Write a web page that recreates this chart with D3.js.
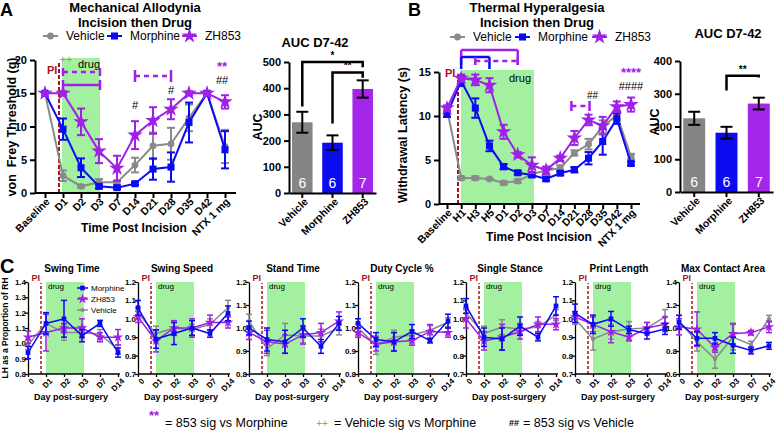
<!DOCTYPE html>
<html>
<head>
<meta charset="utf-8">
<script src="https://cdn.jsdelivr.net/npm/d3@7"></script>
<style>
  body { margin: 0; background: #fff; }
  svg { font-family: "Liberation Sans", Arial, Helvetica, sans-serif; }
</style>
</head>
<body>
<script>
// ---------- data ----------
const groups = ["Vehicle", "Morphine", "ZH853"];

const aTimes = ["Baseline", "D1", "D2", "D3", "D7", "D14", "D21", "D28", "D35", "D42", "NTX 1 mg"];
const aVehicle = [15, 2.6, 1.0, 1.6, 1.6, 4.2, 7.1, 7.4, 11.3, 15, 7.0];
const aVehicleErr = [0, 0.8, 0.2, 0.5, 0.3, 1.1, 2.0, 2.4, 2.0, 0.3, 2.5];
const aMorphine = [15, 9.6, 3.8, 1.0, 0.8, 1.4, 3.6, 3.9, 10.6, 15, 6.5];
const aMorphineErr = [0, 1.6, 1.4, 0.3, 0.2, 0.2, 1.6, 2.2, 3.0, 0.3, 2.8];
const aZH853 = [15, 15, 10.7, 6.3, 3.7, 8.7, 10.9, 12.6, 15, 15, 13.7];
const aZH853Err = [0, 0.3, 2.0, 1.8, 1.9, 2.1, 2.0, 1.5, 0.3, 0.3, 1.0];
const aAuc = [270, 192, 397];
const aAucErr = [40, 28, 33];
const aN = [6, 6, 7];

const bTimes = ["Baseline", "H1", "H3", "H5", "D1", "D2", "D3", "D7", "D14", "D21", "D28", "D35", "D42", "NTX 1 mg"];
const bVehicle = [10.8, 2.95, 2.95, 2.85, 2.4, 2.6, 3.4, 3.8, 4.1, 5.8, 6.8, 8.8, 10.1, 5.4];
const bVehicleErr = [0.3, 0.2, 0.2, 0.1, 0.2, 0.2, 0.2, 0.4, 0.3, 0.3, 0.6, 0.7, 0.5, 0.3];
const bMorphine = [10.2, 14.0, 10.9, 6.6, 4.25, 3.55, 3.3, 2.85, 3.5, 3.9, 5.2, 7.1, 9.7, 4.6];
const bMorphineErr = [0.3, 0.6, 1.1, 0.6, 0.3, 0.2, 0.2, 0.2, 0.2, 0.3, 0.7, 1.5, 0.6, 0.2];
const bZH853 = [10.9, 14.3, 14.1, 13.5, 8.2, 5.6, 4.4, 3.85, 5.2, 7.5, 9.55, 8.9, 11.05, 11.3];
const bZH853Err = [0.3, 0.4, 0.6, 0.8, 0.8, 0.3, 0.9, 0.4, 0.3, 0.8, 0.6, 1.0, 0.6, 0.8];
const bAuc = [225, 181, 270];
const bAucErr = [20, 18, 18];
const bN = [6, 6, 7];

const cDays = ["0", "D1", "D2", "D3", "D7", "D14"];
const cTitles = ["Swing Time", "Swing Speed", "Stand Time", "Duty Cycle %", "Single Stance", "Print Length", "Max Contact Area"];
const cYDomains = [[0.8, 1.4], [0.7, 1.2], [0.8, 1.2], [0.8, 1.2], [0.7, 1.2], [0.7, 1.2], [0.6, 1.4]];
const cMorphine = [
  [0.94, 1.13, 1.16, 1.05, 1.13, 0.94],
  [1.06, 0.89, 0.92, 0.95, 0.92, 1.03],
  [1.00, 0.95, 0.94, 1.00, 0.92, 1.02],
  [1.02, 0.95, 0.94, 0.985, 0.945, 1.03],
  [1.07, 0.90, 0.89, 0.96, 0.90, 1.07],
  [1.03, 0.97, 1.00, 0.94, 0.92, 0.945],
  [1.05, 0.91, 0.91, 0.85, 0.805, 0.845]];
const cMorphineErr = [
  [0.04, 0.07, 0.12, 0.04, 0.02, 0.03],
  [0.04, 0.05, 0.06, 0.04, 0.02, 0.04],
  [0.03, 0.05, 0.05, 0.04, 0.03, 0.03],
  [0.02, 0.03, 0.04, 0.03, 0.01, 0.03],
  [0.04, 0.05, 0.06, 0.05, 0.02, 0.05],
  [0.05, 0.05, 0.04, 0.02, 0.03, 0.03],
  [0.06, 0.06, 0.05, 0.07, 0.03, 0.03]];
const cZH853 = [
  [1.04, 1.07, 1.10, 1.10, 1.04, 1.04],
  [1.01, 0.88, 0.95, 0.95, 0.98, 0.98],
  [0.98, 0.94, 0.93, 0.97, 0.98, 1.03],
  [0.98, 0.93, 0.94, 0.945, 0.985, 0.98],
  [1.00, 0.88, 0.90, 0.93, 0.97, 0.97],
  [1.01, 0.97, 0.93, 0.90, 0.95, 0.97],
  [1.01, 0.99, 0.83, 0.95, 0.96, 1.01]];
const cZH853Err = [
  [0.04, 0.12, 0.03, 0.06, 0.03, 0.05],
  [0.03, 0.06, 0.04, 0.05, 0.04, 0.03],
  [0.03, 0.05, 0.04, 0.04, 0.04, 0.04],
  [0.02, 0.03, 0.04, 0.02, 0.03, 0.02],
  [0.05, 0.05, 0.07, 0.04, 0.04, 0.03],
  [0.03, 0.04, 0.06, 0.02, 0.03, 0.04],
  [0.07, 0.15, 0.04, 0.09, 0.02, 0.05]];
const cVehicle = [
  [0.99, 1.13, 1.07, 1.07, 1.06, 0.96],
  [1.03, 0.92, 0.95, 0.94, 0.97, 1.06],
  [1.03, 0.91, 0.97, 0.965, 0.965, 1.00],
  [1.00, 0.925, 0.96, 0.97, 0.99, 1.025],
  [1.03, 0.92, 0.955, 0.945, 0.955, 1.02],
  [1.00, 0.89, 0.93, 0.945, 0.95, 1.01],
  [1.06, 0.88, 0.73, 0.92, 0.855, 1.08]];
const cVehicleErr = [
  [0.03, 0.07, 0.05, 0.04, 0.03, 0.03],
  [0.03, 0.04, 0.03, 0.03, 0.03, 0.04],
  [0.03, 0.03, 0.05, 0.03, 0.03, 0.03],
  [0.02, 0.04, 0.03, 0.02, 0.02, 0.02],
  [0.03, 0.04, 0.04, 0.03, 0.03, 0.03],
  [0.03, 0.06, 0.04, 0.04, 0.03, 0.04],
  [0.05, 0.08, 0.08, 0.11, 0.03, 0.03]];

// ---------- styles ----------
const colors = { Vehicle: "#8a8a8a", Morphine: "#0a0af5", ZH853: "#a020e8" };
const barColors = { Vehicle: "#858585", Morphine: "#0b0bf0", ZH853: "#a526e8" };
const shapes = { Vehicle: d3.symbolCircle, Morphine: d3.symbolSquare, ZH853: d3.symbolStar };
const green = "#a2f0a0";
const piRed = "#a5141e";

let svg = d3.select("body").append("svg").attr("width", 778).attr("height", 431);

function txt(g, x, y, s, size, opts = {}) {
    return g.append("text")
        .attr("x", x).attr("y", y)
        .attr("font-size", size)
        .attr("font-weight", opts.bold ? "bold" : "normal")
        .attr("fill", opts.fill || "#000")
        .attr("text-anchor", opts.anchor || "start")
        .text(s);
}

function drawSeries(g, x, y, cats, vals, errs, name, sc) {
    let col = colors[name];
    let line = d3.line().x((d, i) => x(cats[i])).y(d => y(d));
    g.append("path").attr("d", line(vals))
        .attr("fill", "none").attr("stroke", col).attr("stroke-width", sc.lw);
    vals.forEach((v, i) => {
        let e = errs[i];
        if (e <= 0) return;
        let cx = x(cats[i]);
        g.append("line").attr("x1", cx).attr("x2", cx).attr("y1", y(v - e)).attr("y2", y(v + e))
            .attr("stroke", col).attr("stroke-width", sc.lw);
        [v - e, v + e].forEach(t => {
            g.append("line").attr("x1", cx - sc.cap).attr("x2", cx + sc.cap).attr("y1", y(t)).attr("y2", y(t))
                .attr("stroke", col).attr("stroke-width", sc.lw);
        });
    });
    let size = sc.sym[name];
    g.selectAll(null).data(vals).join("path")
        .attr("d", d3.symbol().type(shapes[name]).size(size))
        .attr("transform", (d, i) => `translate(${x(cats[i])},${y(d)})`)
        .attr("fill", col);
}

function legendItem(g, x, yy, name, label, size, sc) {
    let col = colors[name];
    g.append("line").attr("x1", x).attr("x2", x + sc.len).attr("y1", yy).attr("y2", yy)
        .attr("stroke", col).attr("stroke-width", sc.lw);
    g.append("path").attr("d", d3.symbol().type(shapes[name]).size(sc.sym[name])())
        .attr("transform", `translate(${x + sc.len / 2},${yy})`).attr("fill", col);
    txt(g, x + sc.len + sc.gap, yy + size * 0.36, label, size);
}

// ---------- line chart A / B ----------
function lineChart(cfg) {
    let g = svg.append("g");
    let x = d3.scalePoint().domain(cfg.times).range(cfg.xr);
    let y = d3.scaleLinear().domain(cfg.yd).range(cfg.yr);
    let sc = { lw: 2, cap: 4, sym: { Vehicle: 36, Morphine: 50, ZH853: 75 } };

    // drug block and PI line
    g.append("rect").attr("x", cfg.green[0]).attr("width", cfg.green[1] - cfg.green[0])
        .attr("y", cfg.greenTop).attr("height", cfg.yr[0] - cfg.greenTop).attr("fill", green);
    txt(g, cfg.drugPos[0], cfg.drugPos[1], "drug", 11);
    g.append("line").attr("x1", cfg.pi).attr("x2", cfg.pi).attr("y1", cfg.yr[0]).attr("y2", cfg.piTop)
        .attr("stroke", piRed).attr("stroke-width", 2).attr("stroke-dasharray", "4,2");
    txt(g, cfg.piText[0], cfg.piText[1], "PI", 11, { bold: true, fill: piRed });

    // axes
    let ya = g.append("g").attr("transform", `translate(${cfg.ax},0)`)
        .call(d3.axisLeft(y).tickValues(cfg.yticks).tickSize(5).tickSizeOuter(0));
    ya.select(".domain").attr("stroke-width", 2);
    ya.selectAll(".tick line").attr("stroke-width", 2);
    ya.selectAll("text").attr("font-size", 11).attr("font-weight", "bold").attr("font-family", null);

    let xa = g.append("g").attr("transform", `translate(0,${cfg.yr[0]})`)
        .call(d3.axisBottom(x).tickSize(5).tickSizeOuter(0));
    xa.select(".domain").remove();
    xa.selectAll(".tick line").attr("stroke-width", 2);
    xa.selectAll("text").attr("font-size", 10.5).attr("font-weight", "bold").attr("font-family", null)
        .attr("text-anchor", "end").attr("dx", "-0.3em").attr("dy", "0.2em")
        .attr("transform", "rotate(-45)");
    g.append("line").attr("x1", cfg.ax).attr("x2", cfg.xEnd).attr("y1", cfg.yr[0]).attr("y2", cfg.yr[0])
        .attr("stroke", "#000").attr("stroke-width", 2);

    drawSeries(g, x, y, cfg.times, cfg.veh, cfg.vehErr, "Vehicle", sc);
    drawSeries(g, x, y, cfg.times, cfg.mor, cfg.morErr, "Morphine", sc);
    drawSeries(g, x, y, cfg.times, cfg.zh, cfg.zhErr, "ZH853", sc);

    // titles
    txt(g, cfg.tx, 12, cfg.title, 13, { bold: true, anchor: "middle" });
    txt(g, cfg.tx, 27, "Incision then Drug", 13, { bold: true, anchor: "middle" });
    txt(g, cfg.xlab[0], cfg.xlab[1], "Time Post Incision", 12, { bold: true, anchor: "middle" });
    g.append("text").attr("transform", `translate(${cfg.ylab[0]},${cfg.ylab[1]}) rotate(-90)`)
        .attr("text-anchor", "middle").attr("font-size", 12.5).attr("font-weight", "bold")
        .attr("xml:space", "preserve").text(cfg.ytitle);

    // legend
    let lsc = { lw: 2, len: 15, gap: 8, sym: sc.sym };
    cfg.legend.forEach((lx, i) => legendItem(g, lx, cfg.legY, groups[i], groups[i], 12, lsc));
    return { g, x, y };
}

// ---------- bar chart ----------
function barChart(cfg) {
    let g = svg.append("g");
    let x = d3.scaleBand().domain(groups).range(cfg.xr).paddingInner(0.32).paddingOuter(0.1);
    let y = d3.scaleLinear().domain(cfg.yd).range(cfg.yr);

    g.selectAll(null).data(cfg.vals).join("rect")
        .attr("x", (d, i) => x(groups[i])).attr("width", x.bandwidth())
        .attr("y", d => y(d)).attr("height", d => y(0) - y(d))
        .attr("fill", (d, i) => barColors[groups[i]]);
    cfg.vals.forEach((v, i) => {
        let cx = x(groups[i]) + x.bandwidth() / 2, e = cfg.errs[i];
        g.append("line").attr("x1", cx).attr("x2", cx).attr("y1", y(v - e)).attr("y2", y(v + e))
            .attr("stroke", "#000").attr("stroke-width", 2);
        [v - e, v + e].forEach(t => g.append("line").attr("x1", cx - 6).attr("x2", cx + 6)
            .attr("y1", y(t)).attr("y2", y(t)).attr("stroke", "#000").attr("stroke-width", 2));
        txt(g, cx, cfg.yr[0] - 5, cfg.n[i], 14, { anchor: "middle", fill: "#fff" });
    });

    let ya = g.append("g").attr("transform", `translate(${cfg.xr[0]},0)`)
        .call(d3.axisLeft(y).ticks(cfg.yd[1] / 100).tickSize(5).tickSizeOuter(0));
    ya.select(".domain").attr("stroke-width", 2);
    ya.selectAll(".tick line").attr("stroke-width", 2);
    ya.selectAll("text").attr("font-size", 11).attr("font-weight", "bold").attr("font-family", null);
    let xa = g.append("g").attr("transform", `translate(0,${cfg.yr[0]})`)
        .call(d3.axisBottom(x).tickSize(5).tickSizeOuter(0));
    xa.select(".domain").attr("stroke-width", 2);
    xa.selectAll(".tick line").attr("stroke-width", 2);
    xa.selectAll("text").attr("font-size", 10.5).attr("font-weight", "bold").attr("font-family", null)
        .attr("text-anchor", "end").attr("dx", "-0.2em").attr("dy", "0.3em")
        .attr("transform", "rotate(-45)");

    txt(g, cfg.tx, cfg.ty, "AUC D7-42", 13, { bold: true, anchor: "middle" });
    g.append("text").attr("transform", `translate(${cfg.ylab[0]},${cfg.ylab[1]}) rotate(-90)`)
        .attr("text-anchor", "middle").attr("font-size", 12.5).attr("font-weight", "bold").text("AUC");

    // significance brackets
    cfg.sig.forEach(s => {
        let x1 = x(groups[s.a]) + x.bandwidth() / 2, x2 = x(groups[s.b]) + x.bandwidth() / 2;
        g.append("path").attr("d", `M${x1},${y(s.l)}V${y(s.top)}H${x2}V${y(s.r)}`)
            .attr("fill", "none").attr("stroke", "#000").attr("stroke-width", 2.5);
        txt(g, (x1 + x2) / 2, y(s.top) - 3, s.label, 10, { bold: true, anchor: "middle" });
    });
    return g;
}

function bracket(g, x1, x2, yy, h, dashed, col) {
    g.append("line").attr("x1", x1).attr("x2", x2).attr("y1", yy).attr("y2", yy)
        .attr("stroke", col).attr("stroke-width", 2.5).attr("stroke-dasharray", dashed ? "5,4" : null);
    [x1, x2].forEach(xx => g.append("line").attr("x1", xx).attr("x2", xx)
        .attr("y1", yy - h[0]).attr("y2", yy + h[1]).attr("stroke", col).attr("stroke-width", 2.5));
}

// ---------- panel A ----------
let A = lineChart({
    times: aTimes, xr: [45, 225], yd: [0, 20], yr: [193, 60], yticks: [0, 5, 10, 15, 20],
    ax: 35, xEnd: 236, green: [62, 100], greenTop: 58, drugPos: [78, 68], pi: 59, piTop: 62,
    piText: [47, 74], title: "Mechanical  Allodynia", tx: 135, xlab: [134, 232],
    ylab: [16, 127], ytitle: "von  Frey Threshold (g)", legend: [43, 107, 182], legY: 36,
    veh: aVehicle, vehErr: aVehicleErr, mor: aMorphine, morErr: aMorphineErr, zh: aZH853, zhErr: aZH853Err
});
bracket(A.g, 63, 100, 72, [4, 4], true, colors.ZH853);
bracket(A.g, 63, 100, 85, [5, 5], false, colors.ZH853);
bracket(A.g, 135, 171, 76, [6, 6], true, colors.ZH853);
txt(A.g, 66, 63, "++", 11, { anchor: "middle", fill: "#9a9a9a" });
txt(A.g, A.x("D14"), 109, "#", 11, { anchor: "middle" });
txt(A.g, A.x("D28"), 94, "#", 11, { anchor: "middle" });
txt(A.g, 222, 71, "**", 13, { bold: true, anchor: "middle", fill: colors.ZH853 });
txt(A.g, 222, 84, "##", 11, { anchor: "middle" });
txt(svg, 0, 16, "A", 18, { bold: true });

barChart({
    vals: aAuc, errs: aAucErr, n: aN, xr: [289, 376], yd: [0, 500], yr: [193, 62],
    tx: 315, ty: 47, ylab: [262, 127],
    sig: [
        { a: 0, b: 2, l: 330, top: 500, r: 480, label: "*" },
        { a: 1, b: 2, l: 265, top: 460, r: 440, label: "**" }]
});

// ---------- panel B ----------
let B = lineChart({
    times: bTimes, xr: [447, 631], yd: [0, 15], yr: [204, 72], yticks: [0, 5, 10, 15],
    ax: 439, xEnd: 640, green: [461, 534], greenTop: 70, drugPos: [509, 82], pi: 458, piTop: 76,
    piText: [445, 77], title: "Thermal Hyperalgesia", tx: 537, xlab: [539, 241],
    ylab: [407, 135], ytitle: "Withdrawal Latency (s)", legend: [450, 515, 592], legY: 37,
    veh: bVehicle, vehErr: bVehicleErr, mor: bMorphine, morErr: bMorphineErr, zh: bZH853, zhErr: bZH853Err
});
bracket(B.g, B.x("H1"), B.x("D2"), 50, [0, 15], false, colors.ZH853);
bracket(B.g, B.x("H1"), B.x("H5"), 57, [0, 12], false, colors.Morphine);
bracket(B.g, B.x("H3"), B.x("D2"), 61, [4, 4], true, colors.ZH853);
bracket(B.g, B.x("D21") - 3, B.x("D28") + 1, 106, [5, 5], true, colors.ZH853);
txt(B.g, B.x("D28") + 4, 99, "##", 10, { anchor: "middle" });
txt(B.g, B.x("NTX 1 mg"), 77, "****", 13, { bold: true, anchor: "middle", fill: colors.ZH853 });
txt(B.g, B.x("NTX 1 mg"), 90, "####", 11, { anchor: "middle" });
txt(svg, 408, 16, "B", 18, { bold: true });

barChart({
    vals: bAuc, errs: bAucErr, n: bN, xr: [680, 773], yd: [0, 400], yr: [192, 61],
    tx: 728, ty: 38, ylab: [659, 122],
    sig: [{ a: 1, b: 2, l: 310, top: 355, r: 350, label: "**" }]
});

// ---------- panel C ----------
const cX0 = [28, 138, 249, 358, 466, 575, 679];
const cSc = { lw: 1.5, cap: 3, sym: { Vehicle: 14, Morphine: 22, ZH853: 34 } };
cTitles.forEach((title, k) => {
    let g = svg.append("g");
    let x0 = cX0[k];
    let x = d3.scalePoint().domain(cDays).range([x0, x0 + 90]);
    let y = d3.scaleLinear().domain(cYDomains[k]).range([374, 282]);
    let step = k === 6 ? 0.2 : 0.1;
    let ticks = d3.range(cYDomains[k][0], cYDomains[k][1] + 1e-6, step);

    g.append("rect").attr("x", x("D1")).attr("width", x("D3") - x("D1") + 2)
        .attr("y", 282).attr("height", 92).attr("fill", green);
    txt(g, x0 + 20, 289, "drug", 8);
    let pi = x0 + 13;
    g.append("line").attr("x1", pi).attr("x2", pi).attr("y1", 374).attr("y2", 283)
        .attr("stroke", piRed).attr("stroke-width", 1.5).attr("stroke-dasharray", "3,2");
    txt(g, pi - 1, 281, "PI", 9, { bold: true, fill: piRed, anchor: "end" });

    let ya = g.append("g").attr("transform", `translate(${x0},0)`)
        .call(d3.axisLeft(y).tickValues(ticks).tickFormat(d3.format(".1f")).tickSize(3).tickSizeOuter(0));
    ya.select(".domain").attr("stroke-width", 1.3);
    ya.selectAll(".tick line").attr("stroke-width", 1.3);
    ya.selectAll("text").attr("font-size", 8).attr("font-weight", "bold").attr("font-family", null).attr("dx", "0.5em");
    let xa = g.append("g").attr("transform", "translate(0,374)")
        .call(d3.axisBottom(x).tickSize(3).tickSizeOuter(0));
    xa.select(".domain").remove();
    xa.selectAll(".tick line").attr("stroke-width", 1.3);
    xa.selectAll("text").attr("font-size", 8).attr("font-weight", "bold").attr("font-family", null)
        .attr("text-anchor", "end").attr("dx", "-0.1em").attr("dy", "0.5em").attr("transform", "rotate(-45)");
    g.append("line").attr("x1", x0).attr("x2", x0 + 92).attr("y1", 374).attr("y2", 374)
        .attr("stroke", "#000").attr("stroke-width", 1.3);

    drawSeries(g, x, y, cDays, cVehicle[k], cVehicleErr[k], "Vehicle", cSc);
    drawSeries(g, x, y, cDays, cZH853[k], cZH853Err[k], "ZH853", cSc);
    drawSeries(g, x, y, cDays, cMorphine[k], cMorphineErr[k], "Morphine", cSc);

    txt(g, x0 + 44, 272, title, 10, { bold: true, anchor: "middle" });
    txt(g, x0 + 43, 400, "Day post-surgery", 9, { bold: true, anchor: "middle" });

    if (k === 0) {
        let lsc = { lw: 1.5, len: 11, gap: 3, sym: cSc.sym };
        legendItem(g, 77, 288, "Morphine", "Morphine", 8, lsc);
        legendItem(g, 77, 299, "ZH853", "ZH853", 8, lsc);
        legendItem(g, 77, 310, "Vehicle", "Vehicle", 8, lsc);
    }
});
svg.append("text").attr("transform", "translate(8,328) rotate(-90)").attr("text-anchor", "middle")
    .attr("font-size", 8.5).attr("font-weight", "bold").text("LH as a Proportion of RH");
txt(svg, 0, 273, "C", 20, { bold: true });

// ---------- footnote ----------
txt(svg, 159, 420, "**", 13, { bold: true, anchor: "end", fill: colors.ZH853 });
txt(svg, 165, 427, "= 853 sig vs Morphine", 12.5);
txt(svg, 322, 427, "++", 10, { anchor: "middle", fill: "#9a9a9a" });
txt(svg, 334, 427, "=  Vehicle sig vs Morphine", 12.5);
txt(svg, 514, 426, "##", 9, { bold: true, anchor: "middle" });
txt(svg, 523, 427, "= 853 sig vs Vehicle", 12.5);
</script>
</body>
</html>
